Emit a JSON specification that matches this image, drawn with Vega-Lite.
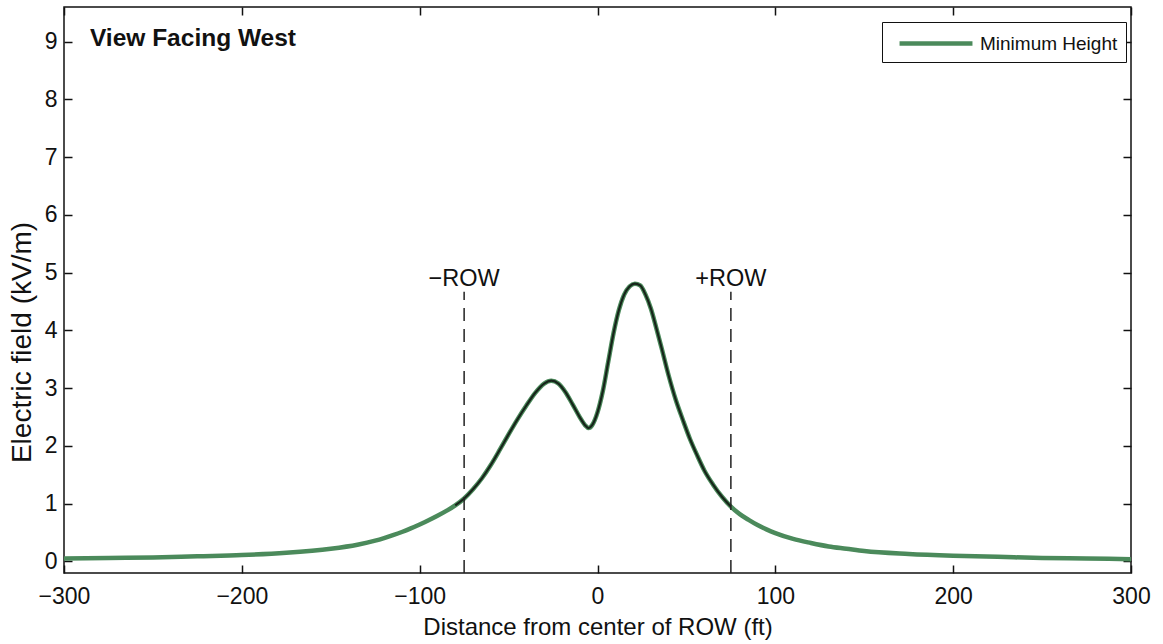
{
  "$schema": "https://vega.github.io/schema/vega-lite/v6.json",
  "width": 1067,
  "height": 566,
  "autosize": {"type": "none"},
  "padding": {"left": 64, "top": 7, "right": 32, "bottom": 71},
  "background": "white",
  "config": {
    "font": "Liberation Sans",
    "view": {"stroke": "#111", "strokeWidth": 1.5},
    "axis": {"grid": false, "domain": false, "tickColor": "#111", "tickWidth": 1.5, "labelColor": "#111", "titleColor": "#111", "labelFont": "Liberation Sans", "titleFont": "Liberation Sans", "titleFontWeight": "normal", "labelFontSize": 23, "titleFontSize": 24, "labelFlush": false, "labelOverlap": false}
  },
  "datasets": {
    "field": [
      {"x": -300, "e": 0.05}, {"x": -275, "e": 0.06}, {"x": -250, "e": 0.07}, {"x": -225, "e": 0.09},
      {"x": -200, "e": 0.11}, {"x": -175, "e": 0.15}, {"x": -150, "e": 0.22}, {"x": -135, "e": 0.29},
      {"x": -125, "e": 0.36}, {"x": -120, "e": 0.405}, {"x": -115, "e": 0.455}, {"x": -110, "e": 0.51},
      {"x": -105, "e": 0.572}, {"x": -100, "e": 0.64}, {"x": -95, "e": 0.712}, {"x": -90, "e": 0.79},
      {"x": -85, "e": 0.875}, {"x": -80, "e": 0.97}, {"x": -75, "e": 1.09}, {"x": -70, "e": 1.25},
      {"x": -65, "e": 1.44}, {"x": -60, "e": 1.67}, {"x": -55, "e": 1.93}, {"x": -50, "e": 2.2},
      {"x": -45, "e": 2.46}, {"x": -40, "e": 2.7}, {"x": -35, "e": 2.92}, {"x": -30, "e": 3.08},
      {"x": -26, "e": 3.13}, {"x": -22, "e": 3.08}, {"x": -18, "e": 2.93}, {"x": -14, "e": 2.72},
      {"x": -10, "e": 2.5}, {"x": -7, "e": 2.36}, {"x": -5, "e": 2.31}, {"x": -3, "e": 2.36},
      {"x": 0, "e": 2.58}, {"x": 3, "e": 2.95}, {"x": 6, "e": 3.45}, {"x": 9, "e": 3.95},
      {"x": 12, "e": 4.35}, {"x": 15, "e": 4.62}, {"x": 18, "e": 4.76}, {"x": 21, "e": 4.81},
      {"x": 24, "e": 4.78}, {"x": 27, "e": 4.62}, {"x": 30, "e": 4.38}, {"x": 33, "e": 4.05},
      {"x": 36, "e": 3.7}, {"x": 40, "e": 3.22}, {"x": 44, "e": 2.8}, {"x": 48, "e": 2.45},
      {"x": 52, "e": 2.12}, {"x": 56, "e": 1.84}, {"x": 60, "e": 1.58}, {"x": 65, "e": 1.33},
      {"x": 70, "e": 1.12}, {"x": 75, "e": 0.95}, {"x": 80, "e": 0.82}, {"x": 85, "e": 0.72},
      {"x": 90, "e": 0.63}, {"x": 95, "e": 0.555}, {"x": 100, "e": 0.49}, {"x": 110, "e": 0.39},
      {"x": 120, "e": 0.32}, {"x": 130, "e": 0.26}, {"x": 140, "e": 0.22}, {"x": 150, "e": 0.18},
      {"x": 175, "e": 0.13}, {"x": 200, "e": 0.1}, {"x": 225, "e": 0.08}, {"x": 250, "e": 0.06},
      {"x": 275, "e": 0.05}, {"x": 300, "e": 0.04}
    ],
    "row": [
      {"x": -75, "label": "−ROW", "ybot": -0.2, "ytop": 4.67, "ylab": 4.77},
      {"x": 75, "label": "+ROW", "ybot": -0.2, "ytop": 4.67, "ylab": 4.77}
    ],
    "note": [{"x": -285.4, "y": 8.93, "label": "View Facing West"}]
  },
  "resolve": {"axis": {"x": "independent", "y": "independent"}},
  "layer": [
    {
      "data": {"name": "field"},
      "mark": {"type": "line", "strokeWidth": 4.5, "clip": true, "interpolate": "monotone"},
      "encoding": {
        "x": {"field": "x", "type": "quantitative", "scale": {"domain": [-300, 300], "nice": false, "zero": false},
          "axis": {"orient": "bottom", "values": [-300, -200, -100, 0, 100, 200, 300], "tickSize": -8, "labelPadding": 20, "title": "Distance from center of ROW (ft)", "titlePadding": 7}},
        "y": {"field": "e", "type": "quantitative", "scale": {"domain": [-0.2, 9.6], "nice": false, "zero": false},
          "axis": {"orient": "left", "values": [0, 1, 2, 3, 4, 5, 6, 7, 8, 9], "tickSize": -8, "labelPadding": 15, "title": "Electric field (kV/m)", "titleFontSize": 28, "titleX": -42, "titleY": 335, "titleAngle": 270, "titleAlign": "center", "titleBaseline": "middle"}},
        "color": {"datum": "Minimum Height", "type": "nominal", "scale": {"range": ["#4b8a5b"]},
          "legend": {"title": null, "orient": "none", "legendX": 818, "legendY": 15, "symbolType": "M-0.36,0H6.27", "symbolSize": 484, "symbolStrokeWidth": 4.5, "labelFontSize": 19, "labelFont": "Liberation Sans", "labelColor": "#111", "strokeColor": "#111", "padding": 8, "fillColor": "white", "labelOffset": 63}}
      }
    },
    {
      "data": {"name": "field"},
      "transform": [{"filter": "datum.x >= -80 && datum.x <= 78"}],
      "mark": {"type": "line", "strokeWidth": 2.2, "color": "#17241a", "interpolate": "monotone"},
      "encoding": {
        "x": {"field": "x", "type": "quantitative", "axis": null},
        "y": {"field": "e", "type": "quantitative", "axis": null}
      }
    },
    {
      "data": {"name": "row"},
      "mark": {"type": "rule", "strokeDash": [13, 8], "strokeWidth": 1.5, "color": "#222"},
      "encoding": {
        "x": {"field": "x", "type": "quantitative", "axis": null},
        "y": {"field": "ybot", "type": "quantitative", "axis": null},
        "y2": {"field": "ytop"}
      }
    },
    {
      "data": {"name": "row"},
      "mark": {"type": "text", "fontSize": 23.5, "color": "#111", "align": "center", "baseline": "alphabetic"},
      "encoding": {
        "x": {"field": "x", "type": "quantitative", "axis": null},
        "y": {"field": "ylab", "type": "quantitative", "axis": null},
        "text": {"field": "label", "type": "nominal"}
      }
    },
    {
      "data": {"name": "note"},
      "mark": {"type": "text", "fontSize": 24.5, "fontWeight": "bold", "color": "#111", "align": "left", "baseline": "alphabetic"},
      "encoding": {
        "x": {"field": "x", "type": "quantitative", "axis": null},
        "y": {"field": "y", "type": "quantitative", "axis": null},
        "text": {"field": "label", "type": "nominal"}
      }
    },
    {
      "data": {"name": "field"},
      "mark": {"type": "point", "opacity": 0},
      "encoding": {
        "x": {"field": "x", "type": "quantitative",
          "axis": {"orient": "top", "values": [-300, -200, -100, 0, 100, 200, 300], "tickSize": -8, "labels": false, "title": null}},
        "y": {"field": "e", "type": "quantitative",
          "axis": {"orient": "right", "values": [0, 1, 2, 3, 4, 5, 6, 7, 8, 9], "tickSize": -8, "labels": false, "title": null}}
      }
    }
  ]
}
